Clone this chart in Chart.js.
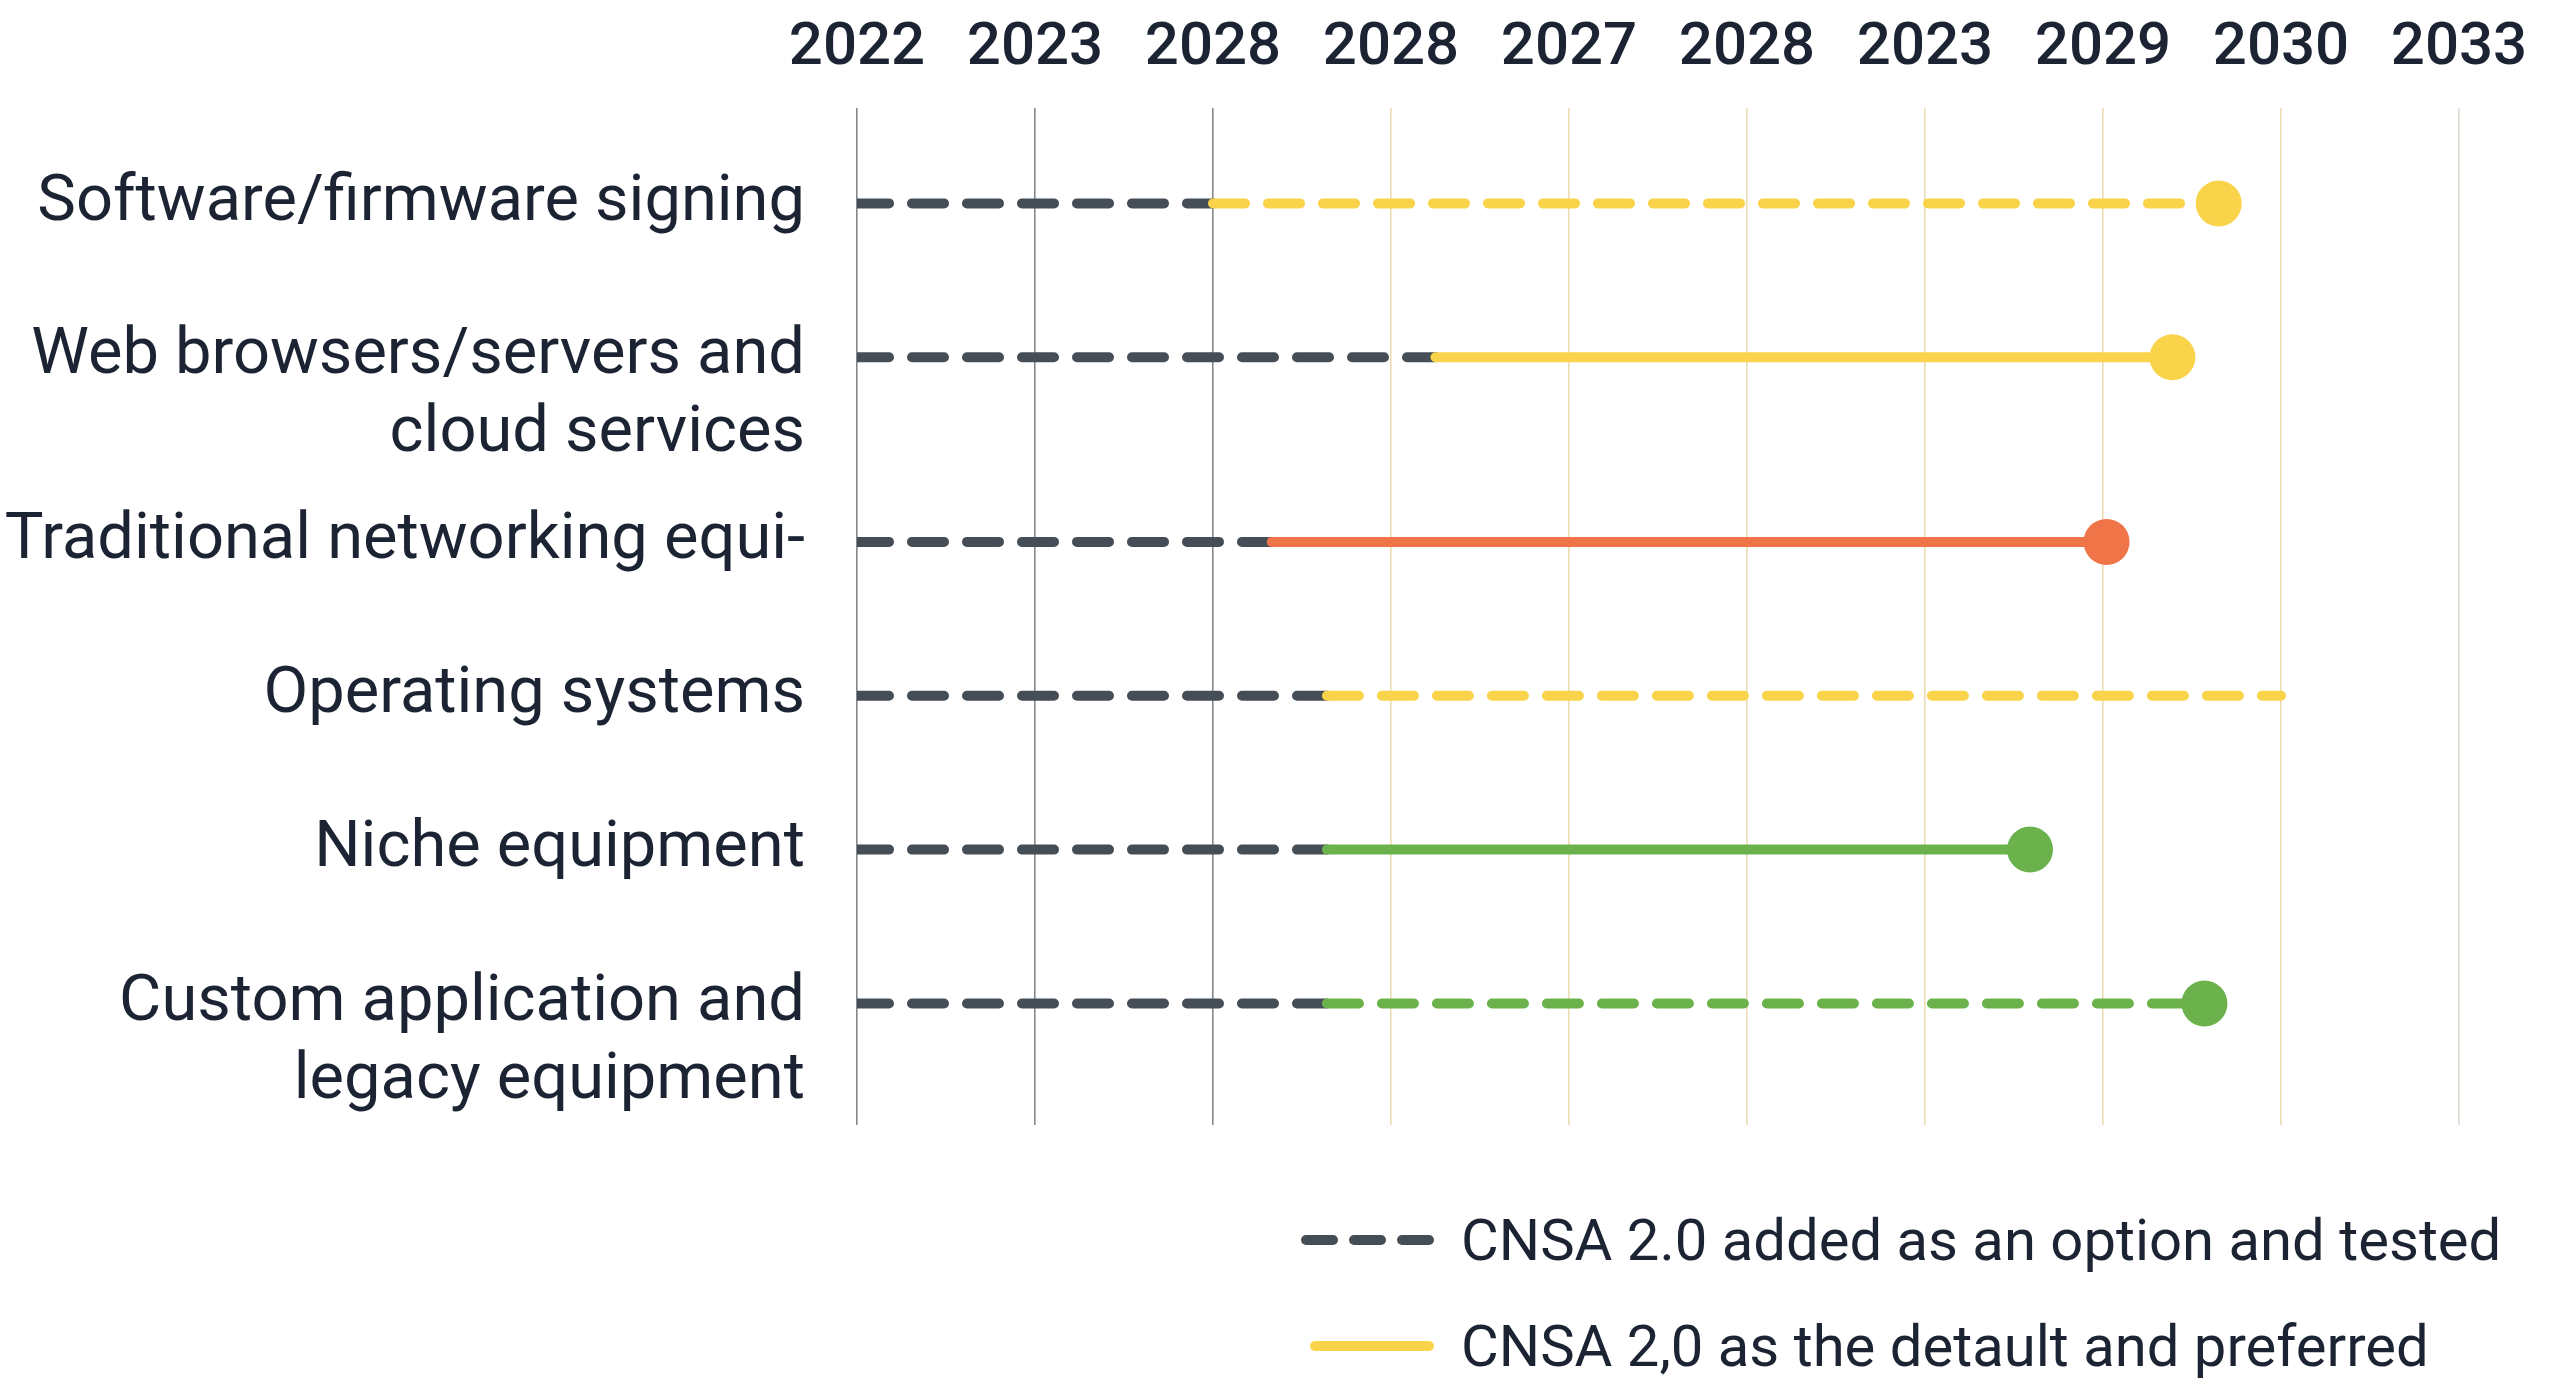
<!DOCTYPE html>
<html>
<head>
<meta charset="utf-8">
<title>CNSA 2.0 timeline</title>
<script src="https://cdn.jsdelivr.net/npm/chart.js@4.4.1/dist/chart.umd.min.js"></script>
<style>
  html, body { margin: 0; padding: 0; background: #fff; }
  #wrap { position: relative; width: 2550px; height: 1381px; }
  #legend {
    position: absolute; left: 1296px; top: 1187px;
    font-family: Roboto, sans-serif; font-size: 58px; color: #1c2434;
  }
  #legend .row { display: flex; align-items: center; height: 106px; white-space: nowrap; }
  #legend svg { margin-right: 27px; flex: none; }
</style>
</head>
<body>
<div id="wrap">
  <canvas id="timeline"></canvas>
  <div id="legend"></div>
</div>
<script>
// rows, top to bottom
const categories = [
    ['Software/firmware signing'],
    ['Web browsers/servers and', 'cloud services'],
    ['Traditional networking equi-'],
    ['Operating systems'],
    ['Niche equipment'],
    ['Custom application and', 'legacy equipment']
];

// column headers along the top axis
const yearLabels = ['2022', '2023', '2028', '2028', '2027', '2028', '2023', '2029', '2030', '2033'];

// position on the column scale (0 = first column) where each phase ends
const testedUntil  = [2.0, 3.25, 2.33, 2.64, 2.64, 2.64];
const defaultUntil = [7.65, 7.39, 7.02, 8.0, 6.59, 7.57];

const legendItems = [
    'CNSA 2.0 added as an option and tested',
    'CNSA 2,0 as the detault and preferred'
];

// styling
const INK = '#1c2434';
const TESTED_COLOR = '#454e56';
const DASH = [32, 23];
const rowColors  = ['#f9d349', '#f9d349', '#ef7448', '#f9d349', '#6cb24c', '#6cb24c'];
const rowDashed  = [true, false, false, true, false, true];
const rowEndDot  = [true, true, true, false, true, true];

// a row under a two-line name gets a bit of extra room
const EXTRA_LINE_GAP = 0.2;
const rowPos = [];
categories.forEach(function (lines, i) {
    rowPos.push(i === 0 ? 0 : rowPos[i - 1] + 1 + EXTRA_LINE_GAP * (categories[i - 1].length - 1));
});
const lastRow = rowPos[rowPos.length - 1];

const datasets = categories.map(function (lines, i) {
    return {
        label: lines.join(' '),
        data: [
            { x: 0, y: rowPos[i] },
            { x: testedUntil[i], y: rowPos[i] },
            { x: defaultUntil[i], y: rowPos[i] }
        ],
        borderColor: rowColors[i],
        borderWidth: 10,
        borderCapStyle: 'round',
        borderDash: [],
        tension: 0,
        pointRadius: ctx => (ctx.dataIndex === 2 && rowEndDot[i]) ? 23 : 0,
        pointHoverRadius: ctx => (ctx.dataIndex === 2 && rowEndDot[i]) ? 23 : 0,
        pointBackgroundColor: rowColors[i],
        pointBorderWidth: 0,
        segment: {
            borderColor: ctx => ctx.p0DataIndex === 0 ? TESTED_COLOR : undefined,
            borderDash: ctx => (ctx.p0DataIndex === 0 || rowDashed[i]) ? DASH : undefined
        }
    };
});

new Chart(document.getElementById('timeline'), {
    type: 'line',
    data: { datasets: datasets },
    options: {
        responsive: true,
        maintainAspectRatio: false,
        animation: false,
        events: [],
        layout: { padding: { top: 0, left: 0, right: 91, bottom: 256 } },
        plugins: {
            legend: { display: false },
            tooltip: { enabled: false }
        },
        scales: {
            x: {
                type: 'linear',
                position: 'top',
                min: 0,
                max: yearLabels.length - 1,
                afterBuildTicks: s => { s.ticks = yearLabels.map((_, i) => ({ value: i })); },
                afterFit: s => { s.height = 108; s.paddingLeft = 0; s.paddingRight = 0; },
                ticks: {
                    autoSkip: false,
                    maxRotation: 0,
                    padding: 23,
                    color: INK,
                    font: { family: 'Roboto', size: 60, weight: '500' },
                    callback: (v, idx) => yearLabels[idx]
                },
                grid: {
                    drawTicks: false,
                    lineWidth: 1.6,
                    color: ctx => ctx.index <= 2 ? '#85888a' : (ctx.index === 9 ? '#dedad2' : '#ecdcb4')
                },
                border: { display: false }
            },
            y: {
                type: 'linear',
                reverse: true,
                min: -0.62,
                max: lastRow + 0.79,
                afterBuildTicks: s => { s.ticks = rowPos.map(p => ({ value: p })); },
                afterFit: s => { s.width = 857; s.paddingTop = 0; s.paddingBottom = 0; },
                ticks: {
                    autoSkip: false,
                    padding: 44,
                    color: INK,
                    font: { family: 'Roboto', size: 65, lineHeight: 1.2 },
                    // two-line names hang down from the row instead of centring on it
                    callback: (v, idx) => {
                        const lines = categories[idx];
                        return lines.length > 1 ? [''].concat(lines) : lines[0];
                    }
                },
                grid: { display: false },
                border: { display: false }
            }
        }
    }
});

// legend below the plot
const legendSamples = [
    '<line x1="10" y1="10" x2="133" y2="10" stroke="' + TESTED_COLOR + '" stroke-width="10" stroke-linecap="round" stroke-dasharray="27 21"/>',
    '<line x1="19" y1="10" x2="133" y2="10" stroke="' + rowColors[0] + '" stroke-width="10" stroke-linecap="round"/>'
];
document.getElementById('legend').innerHTML = legendItems.map((text, i) =>
    '<div class="row"><svg width="138" height="20">' + legendSamples[i] + '</svg><span>' + text + '</span></div>'
).join('');
</script>
</body>
</html>
